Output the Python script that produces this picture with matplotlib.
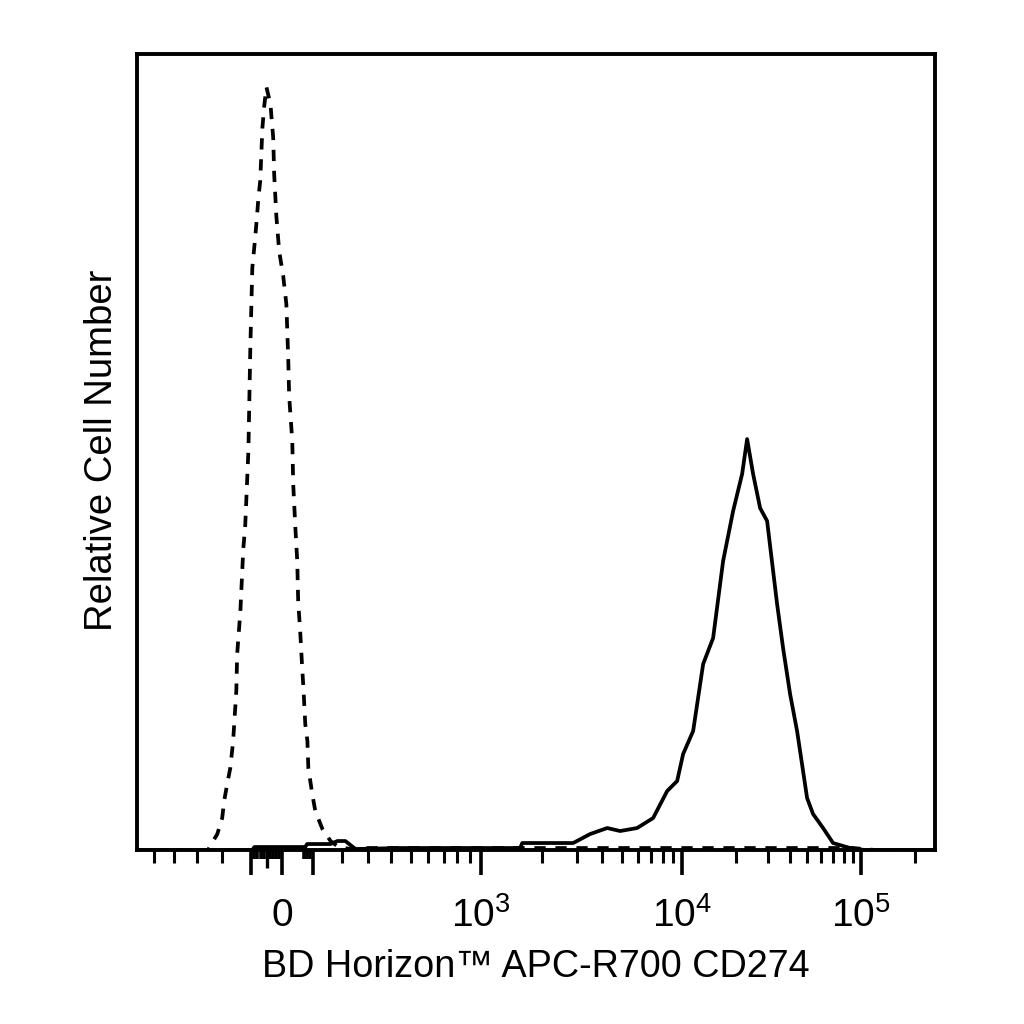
import numpy as np
import matplotlib
matplotlib.use("Agg")
import matplotlib.pyplot as plt

plt.rcParams["font.family"] = ["Liberation Sans", "DejaVu Sans"]
plt.rcParams["mathtext.fontset"] = "custom"
plt.rcParams["mathtext.rm"] = "Liberation Sans"
plt.rcParams["mathtext.it"] = "Liberation Sans:italic"
plt.rcParams["mathtext.bf"] = "Liberation Sans:bold"

# isotype control (dashed)
iso_x = [-600, -300, -254, -246, -219, -201, -194, -183, -172, -162, -151, -148,
         -137, -127, -121, -110, -104, -100, -97, -87, -81, -77, -71, -64, -58,
         -51, -38, -29, -26, -19, -10, 3, 13, 19, 22, 32, 35, 42, 48, 51, 58, 64,
         68, 74, 81, 84, 97, 107, 131, 159, 187, 231, 300, 1000, 10000, 50000,
         90000, 120000, 260000]
iso_y = [0, 0, 0, 4, 16, 32, 49, 66, 82, 109, 159, 196,
         239, 302, 322, 399, 496, 546, 582, 614, 636, 652, 669, 722, 744,
         763, 746, 712, 676, 634, 599, 574, 546, 492, 454, 409, 366, 322, 289, 249, 216, 182,
         162, 126, 109, 82, 56, 39, 21, 9, 3, 1, 2, 2, 2, 2,
         2, 0, 0]

# CD274 stained (solid)
cd_x = [-600, -97, -90, -71, 74, 80, 159, 183, 212, 250, 447, 1563, 1600, 1966,
        2869, 3486, 4236, 4914, 5972, 7173, 8423, 9444, 10129, 11522, 13106,
        14900, 16944, 19270, 21640, 23080, 24930, 27280, 29850, 33940, 36660,
        40120, 43900, 49930, 53930, 61330, 69750, 86800, 105000, 260000]
cd_y = [0, 0, 3, 3, 3, 6, 6, 9, 9, 1, 2, 2, 7, 7,
        7, 16, 22, 19, 22, 32, 59, 69, 96, 119, 186,
        212, 289, 339, 376, 411, 376, 342, 329, 246, 202,
        156, 119, 52, 36, 22, 7, 2, 0, 0]

major_ticks = [-100, 0, 100, 1e3, 1e4, 1e5]
major_labels = ["", "0", "", "$10^3$", "$10^4$", "$10^5$"]
minor_ticks = ([-500, -400, -300, -200]
               + [200, 300, 400, 500, 600, 700, 800, 900]
               + [2e3, 3e3, 4e3, 5e3, 6e3, 7e3, 8e3, 9e3]
               + [2e4, 3e4, 4e4, 5e4, 6e4, 7e4, 8e4, 9e4]
               + [2e5])
dense_ticks = [-90, -80, -70, -60, -40, -30, -20, -10, 70, 80, 90]
mid_ticks = [-50]

# biexponential-like display scale
W = 370.0
P_LIN = 199.0
P_DEC1 = 201.0
P_DEC2 = 179.0
K = np.arcsinh(1000.0 / W)


def fwd(x):
    x = np.asarray(x, dtype=float)
    with np.errstate(all="ignore"):
        lin = P_LIN * np.arcsinh(x / W) / K
        xs = np.maximum(x, 1.0)
        d1 = P_LIN + P_DEC1 * np.log10(xs / 1e3)
        d2 = P_LIN + P_DEC1 + P_DEC2 * np.log10(xs / 1e4)
    return np.where(x <= 1e3, lin, np.where(x <= 1e4, d1, d2))


def inv(p):
    p = np.asarray(p, dtype=float)
    with np.errstate(all="ignore"):
        lin = W * np.sinh(np.clip(p, -700, 700) / P_LIN * K)
        d1 = 1e3 * 10 ** ((p - P_LIN) / P_DEC1)
        d2 = 1e4 * 10 ** (np.clip(p - P_LIN - P_DEC1, -2000, 2000) / P_DEC2)
    return np.where(p <= P_LIN, lin, np.where(p <= P_LIN + P_DEC1, d1, d2))


fig = plt.figure(figsize=(10.24, 10.24), dpi=100)
ax = fig.add_axes([0.1338, 0.1699, 0.7793, 0.7773])
ax.set_xscale("function", functions=(fwd, inv))

ax.plot(iso_x, iso_y, color="black", lw=2.7, ls=(0, (3.0, 2.6)))
ax.plot(cd_x, cd_y, color="black", lw=2.7)

ax.set_xlim(-597, 2.59e5)
ax.set_ylim(0, 796)
ax.set_yticks([])

ax.set_xticks(major_ticks)
ax.set_xticklabels(major_labels, fontsize=28)
ax.set_xticks(minor_ticks, minor=True)
ax.tick_params(axis="x", which="major", length=18, width=2.6, pad=37, direction="out")
ax.tick_params(axis="x", which="minor", length=9.5, width=2.2, direction="out")
for t in ax.xaxis.get_major_ticks():
    t.label1.set_va("baseline")

trans = ax.get_xaxis_transform()
ax.vlines(dense_ticks, -0.0113, 0, transform=trans, colors="black", lw=2.6, clip_on=False)
ax.vlines(mid_ticks, -0.0226, 0, transform=trans, colors="black", lw=2.4, clip_on=False)

for s in ax.spines.values():
    s.set_linewidth(2.8)

ax.set_xlabel("BD Horizon\u2122 APC-R700 CD274", fontsize=27.2)
ax.xaxis.label.set_va("baseline")
ax.xaxis.set_label_coords(0.5, -0.1595)

ax.set_ylabel("Relative Cell Number", fontsize=27.5, rotation_mode="anchor")
ax.yaxis.label.set_va("baseline")
ax.yaxis.label.set_ha("center")
ax.yaxis.set_label_coords(-0.0313, 0.5025)

fig.savefig("out.png", dpi=100)
